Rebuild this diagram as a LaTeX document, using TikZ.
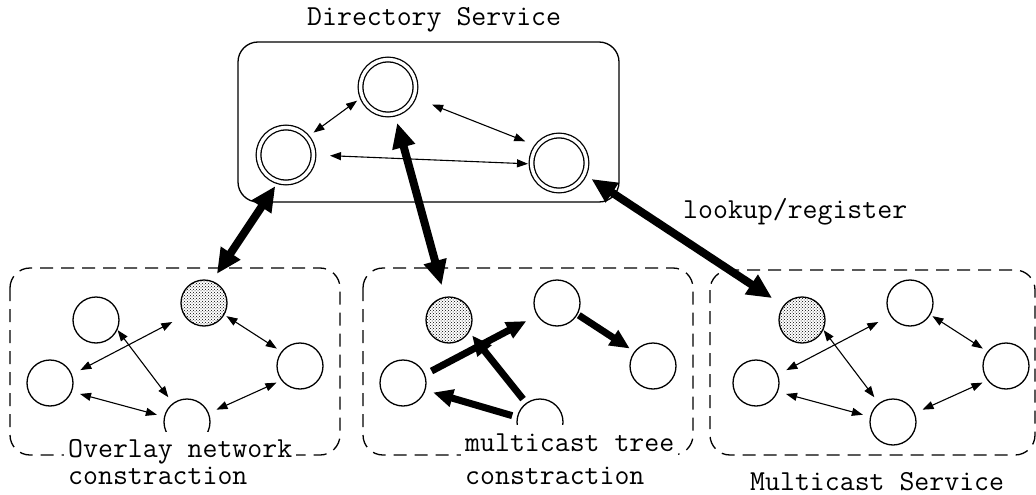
\documentclass[tikz,border=0pt]{standalone}
\usepackage{fontspec}
\usetikzlibrary{arrows.meta,patterns}
\begin{document}
\begin{tikzpicture}[x=1pt,y=-1pt,
  lbl/.style={font=\ttfamily\fontsize{29}{34}\selectfont, inner sep=0pt, anchor=base west},
  cutlbl/.style={lbl, fill=white, inner xsep=4pt, inner ysep=0pt},
  dirpeer/.style={circle, draw, line width=1.3pt, double=white, double distance=3.4pt,
    minimum size=55pt, inner sep=0pt, outer sep=0pt},
  peer/.style={circle, draw, line width=1.3pt, fill=white, minimum size=46pt,
    inner sep=0pt, outer sep=0pt},
  source/.style={peer, preaction={fill=white}, pattern=crosshatch dots},
  thinarr/.style={line width=1.1pt,
    {Triangle[length=11pt,width=8pt]}-{Triangle[length=11pt,width=8pt]}},
  bigarr/.style={line width=8pt,
    {Triangle[length=25pt,width=22pt]}-{Triangle[length=25pt,width=22pt]}},
  treearr/.style={line width=7pt, -{Triangle[length=20pt,width=17pt]}},
  panel/.style={draw, line width=1.3pt, dash pattern=on 13pt off 8pt, rounded corners=20pt},
  dirbox/.style={draw, line width=1.3pt, rounded corners=20pt}]
\useasboundingbox (0,0) rectangle (1036,495);

% containers
\draw[dirbox] (238,42) rectangle (619,202);
\draw[panel] (10,268) rectangle (340,455);
\draw[panel] (363,268) rectangle (693,455);
\draw[panel] (710,270) rectangle (1035,455);

% directory servers
\node[dirpeer] (dl) at (286,155) {};
\node[dirpeer] (dt) at (388,87) {};
\node[dirpeer] (dr) at (559,163) {};

% overlay network peers
\node[peer]   (p1a) at (96,320) {};
\node[source] (p1b) at (204,303) {};
\node[peer]   (p1c) at (50,383) {};
\node[peer]   (p1d) at (300,366) {};
\node[peer]   (p1e) at (187,422) {};

% multicast tree peers
\node[source] (p2a) at (449,320) {};
\node[peer]   (p2b) at (557,303) {};
\node[peer]   (p2c) at (403,383) {};
\node[peer]   (p2d) at (653,366) {};
\node[peer]   (p2e) at (540,422) {};

% multicast service peers
\node[source] (p3a) at (802,320) {};
\node[peer]   (p3b) at (910,303) {};
\node[peer]   (p3c) at (756,383) {};
\node[peer]   (p3d) at (1006,366) {};
\node[peer]   (p3e) at (893,422) {};

% links between directory servers
\draw[thinarr, shorten <=8pt, shorten >=6.5pt] (dl.40) -- (dt.201);
\draw[thinarr, shorten <=20pt, shorten >=13pt] (dt.-22) -- (dr.142);
\draw[thinarr, shorten <=16.5pt, shorten >=3.5pt] (dl.0) -- (dr.182);

% lookup/register links
\draw[bigarr, shorten <=5.6pt, shorten >=9pt] (dl.254) -- (p1b.70);
\draw[bigarr, shorten <=9.5pt, shorten >=12.5pt] (dt.-76) -- (p2a.100);
\draw[bigarr, shorten <=8.7pt, shorten >=14pt] (dr.-24) -- (p3a.142);

% overlay links
\draw[thinarr, shorten <=10pt, shorten >=14pt] (p1c.21) -- (p1b.213);
\draw[thinarr, shorten <=1pt, shorten >=8pt] (p1a.-24) -- (p1e.127);
\draw[thinarr, shorten <=3pt, shorten >=6pt] (p1b.-30) -- (p1d.142);
\draw[thinarr, shorten <=9pt, shorten >=8pt] (p1c.-22) -- (p1e.167);
\draw[thinarr, shorten <=9pt, shorten >=6pt] (p1e.22) -- (p1d.218);

% multicast tree edges
\draw[treearr, shorten <=8pt, shorten >=12.5pt] (p2c.21) -- (p2b.212);
\draw[treearr, shorten <=5.5pt, shorten >=5pt] (p2e.126) -- (p2a.-30);
\draw[treearr, shorten <=5.5pt, shorten >=8.5pt] (p2e.168) -- (p2c.-18);
\draw[treearr, shorten <=2pt, shorten >=6pt] (p2b.-29) -- (p2d.142);

% multicast service links
\draw[thinarr, shorten <=10pt, shorten >=14pt] (p3c.21) -- (p3b.213);
\draw[thinarr, shorten <=1pt, shorten >=8pt] (p3a.-24) -- (p3e.127);
\draw[thinarr, shorten <=3pt, shorten >=6pt] (p3b.-30) -- (p3d.142);
\draw[thinarr, shorten <=9pt, shorten >=8pt] (p3c.-22) -- (p3e.167);
\draw[thinarr, shorten <=9pt, shorten >=6pt] (p3e.22) -- (p3d.218);

% labels (the first line of each panel caption masks the panel edge)
\node[lbl] (tdir) at (307,26) {Directory Service};
\node[lbl] (tlook) at (683,218) {lookup/register};
\node[cutlbl, text height=25pt, text depth=2pt] (tov1) at (64,457) {Overlay network};
\node[lbl] (tov2) at (68,484) {constraction};
\node[cutlbl, text height=26pt, text depth=7pt] (tmt1) at (461,451) {multicast tree};
\node[lbl] (tmt2) at (465,484) {constraction};
\node[lbl] (tms) at (750,490) {Multicast Service};
\end{tikzpicture}
\end{document}
